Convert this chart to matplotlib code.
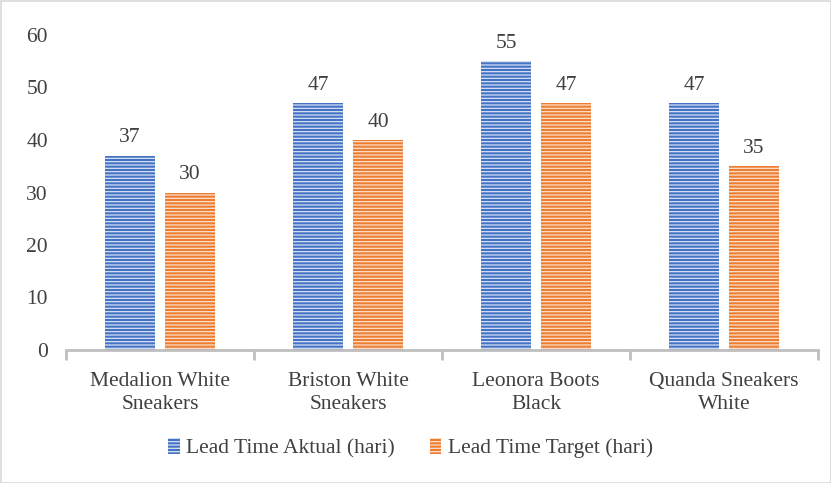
import matplotlib
matplotlib.use("Agg")
import matplotlib.pyplot as plt
import numpy as np
from matplotlib.patches import Rectangle

categories = ["Medalion White\nSneakers", "Briston White\nSneakers", "Leonora Boots\nBlack", "Quanda Sneakers\nWhite"]
aktual = [37, 47, 55, 47]
target = [30, 40, 47, 35]
series_names = ["Lead Time Aktual (hari)", "Lead Time Target (hari)"]

plt.rcParams['font.family'] = ['Liberation Serif', 'DejaVu Serif']
plt.rcParams['hatch.linewidth'] = 0.9
text_color = '#404040'
fs = 15.5

fig = plt.figure(figsize=(8.31, 4.83), dpi=100)
ax = fig.add_axes([66/831, 133/483, 752/831, 315/483])

x = np.arange(len(categories))
w = 0.266
gap = 0.053
b1 = ax.bar(x - (w + gap)/2, aktual, w, color='#4472C4', edgecolor='#D5E0F4', linewidth=0, hatch='-----', label=series_names[0])
b2 = ax.bar(x + (w + gap)/2, target, w, color='#ED7D31', edgecolor='#FCE0CC', linewidth=0, hatch='-----', label=series_names[1])

for bars, vals in [(b1, aktual), (b2, target)]:
    for r, v in zip(bars, vals):
        ax.annotate(str(v), (r.get_x() + r.get_width()/2, v), xytext=(0, 6), textcoords='offset points',
                    ha='center', va='bottom', fontsize=fs, color=text_color)

ax.set_xlim(-0.5, len(categories) - 0.5)
ax.set_ylim(0, 60)
ax.set_yticks(range(0, 61, 10))
ax.tick_params(axis='y', length=0, labelsize=fs, labelcolor=text_color, pad=13)
ax.set_xticks(x)
ax.set_xticklabels(categories, linespacing=1.25)
ax.tick_params(axis='x', length=0, labelsize=fs, labelcolor=text_color, pad=16)
ax.set_xticks(np.arange(-0.5, len(categories), 1), minor=True)
ax.tick_params(axis='x', which='minor', length=7, width=2, color='#BFBFBF')

for s in ['top', 'right', 'left']:
    ax.spines[s].set_visible(False)
ax.spines['bottom'].set_color('#BFBFBF')
ax.spines['bottom'].set_linewidth(2)

leg = fig.legend(loc='center', bbox_to_anchor=(0.494, 1 - 448/483), ncol=2, frameon=False,
                 fontsize=fs, handlelength=0.55, handleheight=0.75, handletextpad=0.3, columnspacing=1.6)
for t in leg.get_texts():
    t.set_color(text_color)

fig.patches.append(Rectangle((0.5/831, 0.5/483), 1 - 1/831, 1 - 1/483, transform=fig.transFigure,
                             fill=False, edgecolor='#D9D9D9', linewidth=1.2))

fig.savefig("out.png", dpi=100)
